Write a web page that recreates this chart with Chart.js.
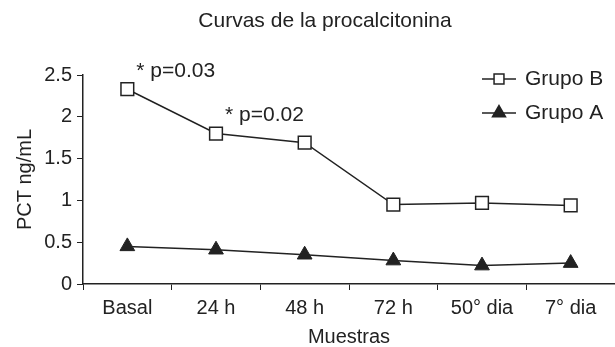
<!DOCTYPE html>
<html>
<head>
<meta charset="utf-8">
<script src="https://cdn.jsdelivr.net/npm/chart.js@4"></script>
<style>
  html, body { margin: 0; padding: 0; background: #fff; }
  #wrap { width: 615px; height: 347px; }
</style>
</head>
<body>
<div id="wrap"><canvas id="pctChart" width="615" height="347"></canvas></div>
<script>
// data
const muestras = ['Basal', '24 h', '48 h', '72 h', '50° dia', '7° dia'];
const grupoB = [2.33, 1.80, 1.69, 0.95, 0.97, 0.94];
const grupoA = [0.45, 0.41, 0.35, 0.28, 0.22, 0.25];
const pLabels = ['* p=0.03', '* p=0.02', null, null, null, null];

const FONT = "'Liberation Sans', Arial, sans-serif";
const INK = '#222';

// title, p-value notes and the legend drawn inside the plot
const extras = {
  id: 'extras',
  afterDraw(chart) {
    const ctx = chart.ctx;
    const area = chart.chartArea;
    const meta = chart.getDatasetMeta(0);
    ctx.save();
    ctx.fillStyle = INK;
    ctx.font = '21px ' + FONT;
    ctx.textBaseline = 'middle';

    ctx.textAlign = 'center';
    ctx.fillText('Curvas de la procalcitonina', 325, 21);

    ctx.textAlign = 'left';
    pLabels.forEach(function(txt, i) {
      if (!txt) return;
      const pt = meta.data[i];
      ctx.fillText(txt, pt.x + 9, pt.y - 18);
    });

    // legend
    const rows = [
      { label: 'Grupo B', style: 'rect', radius: 7, fill: '#fff' },
      { label: 'Grupo A', style: 'triangle', radius: 7.5, fill: INK }
    ];
    rows.forEach(function(r, i) {
      const y = area.top + 4 + i * 34;
      const x0 = area.right - 133;
      ctx.strokeStyle = INK;
      ctx.lineWidth = 1.5;
      ctx.beginPath();
      ctx.moveTo(x0, y);
      ctx.lineTo(x0 + 34, y);
      ctx.stroke();
      ctx.fillStyle = r.fill;
      Chart.helpers.drawPoint(ctx, { pointStyle: r.style, radius: r.radius, borderWidth: 1.5, rotation: 0 }, x0 + 17, y);
      ctx.fillStyle = INK;
      ctx.fillText(r.label, x0 + 43, y);
    });
    ctx.restore();
  }
};

new Chart(document.getElementById('pctChart'), {
  type: 'line',
  data: {
    labels: muestras,
    datasets: [{
      label: 'Grupo B',
      data: grupoB,
      borderColor: INK,
      borderWidth: 1.5,
      pointStyle: 'rect',
      pointRadius: 9,
      pointBackgroundColor: '#fff',
      pointBorderColor: INK,
      pointBorderWidth: 1.5,
      tension: 0
    }, {
      label: 'Grupo A',
      data: grupoA,
      borderColor: INK,
      borderWidth: 1.5,
      pointStyle: 'triangle',
      pointRadius: 8.5,
      pointBackgroundColor: INK,
      pointBorderColor: INK,
      pointBorderWidth: 1,
      tension: 0
    }]
  },
  options: {
    responsive: false,
    animation: false,
    layout: { autoPadding: false, padding: { top: 75, right: 0, left: 0, bottom: 0 } },
    plugins: {
      legend: { display: false },
      title: { display: false },
      tooltip: { enabled: false }
    },
    scales: {
      x: {
        offset: true,
        grid: { display: true, offset: true, drawOnChartArea: false, drawTicks: true, tickLength: 6, color: INK },
        border: { display: true, color: INK, width: 1.5 },
        ticks: { color: INK, font: { family: FONT, size: 20 }, padding: 6, maxRotation: 0, autoSkip: false },
        title: { display: true, text: 'Muestras', color: INK, font: { family: FONT, size: 20, lineHeight: 1 }, padding: { top: 0, bottom: 0 } },
        afterFit(scale) { scale.height = 63; }
      },
      y: {
        min: 0,
        max: 2.5,
        grid: { display: true, drawOnChartArea: false, drawTicks: true, tickLength: 6, color: INK },
        border: { display: true, color: INK, width: 1.5 },
        ticks: { stepSize: 0.5, color: INK, font: { family: FONT, size: 20 }, padding: 5, callback: v => String(v) },
        title: { display: true, text: 'PCT ng/mL', color: INK, font: { family: FONT, size: 20 }, padding: { top: 13, bottom: 0 } },
        afterFit(scale) { scale.width = 83; }
      }
    }
  },
  plugins: [extras]
});
</script>
</body>
</html>
